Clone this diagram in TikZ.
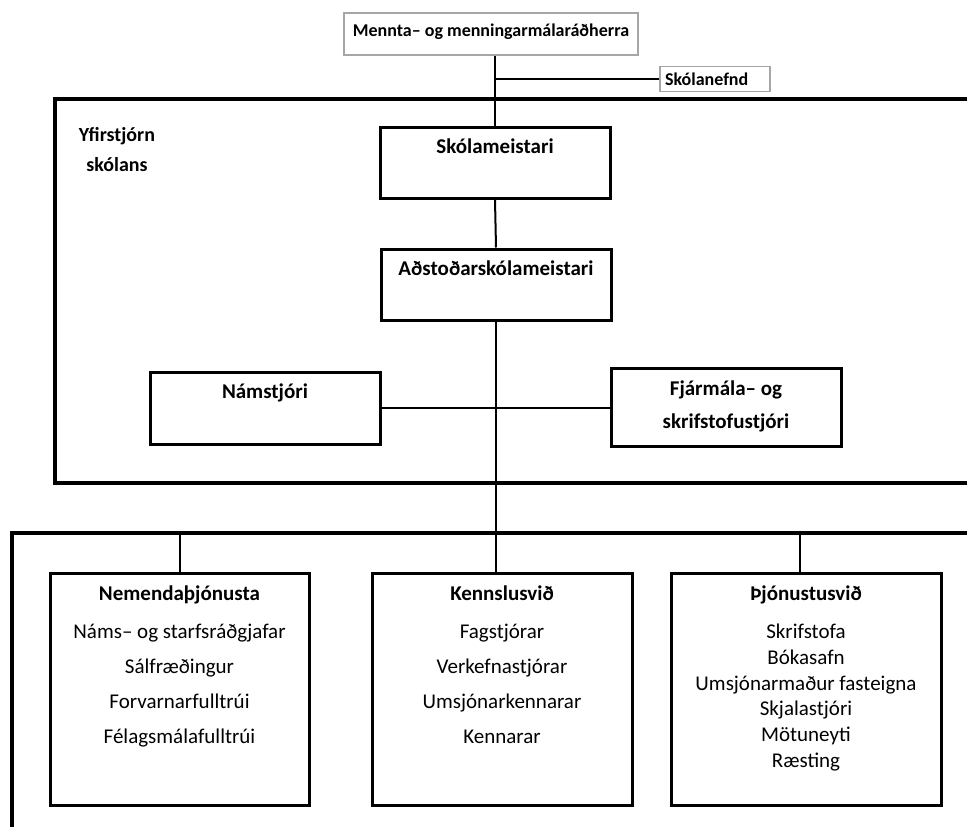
\documentclass[tikz,border=0pt]{standalone}
\usepackage{fontspec}
\setmainfont{Carlito}
\usetikzlibrary{positioning}
\tikzset{unit/.style={draw, line width=3pt, minimum width=230pt, inner sep=0pt},
    thin box/.style={draw=gray!70, line width=1.2pt, inner sep=3pt,
        font=\fontsize{18}{20}\selectfont\bfseries},
    label text/.style={inner sep=0pt, align=center, anchor=north},
    frame/.style={line width=3.5pt},
    link/.style={line width=2pt},
    }
\newcommand\topstrut{\rule{0pt}{20pt}}

\begin{document}
\begin{tikzpicture}[x=1pt,y=-1pt]
\useasboundingbox (0,0) rectangle (967,827);

% ofan yfirstjornar
\node[thin box, minimum width=294pt, minimum height=42pt, text height=15pt, text depth=11pt] (radh) at (491,34) {Mennta– og menningarmálaráðherra};
\node[thin box, minimum width=110pt, minimum height=25pt, inner xsep=5pt, text width=100pt, align=left] (nefnd) at (715,79) {Skólanefnd};

% rammar
\draw[frame] (967,99) -- (55,99) -- (55,483) -- (967,483);
\draw[frame] (967,533) -- (12,533) -- (12,827);
\coordinate (bar) at (12,533);
\node[label text, font=\fontsize{20}{30}\selectfont\bfseries] (yfir) at (117,121.5) {\topstrut Yfirstjórn\\skólans};

% yfirstjorn
\node[unit, minimum height=71pt] (skola) at (495,162.5) {};
\node[unit, minimum height=71pt] (adstod) at (496,284.5) {};
\node[unit, minimum height=72pt] (namstj) at (265,408) {};
\node[unit, minimum height=78pt] (fjarm) at (726,407) {};
\node[label text, font=\fontsize{21}{33}\selectfont\bfseries, below=7.5pt of skola.north] (skola-t) {\topstrut Skólameistari};
\node[label text, font=\fontsize{21}{33}\selectfont\bfseries, below=7.5pt of adstod.north] (adstod-t) {\topstrut Aðstoðarskólameistari};
\node[label text, font=\fontsize{21}{33}\selectfont\bfseries, below=7.5pt of namstj.north] (namstj-t) {\topstrut Námstjóri};
\node[label text, font=\fontsize{21}{33}\selectfont\bfseries, below=8.5pt of fjarm.north] (fjarm-t) {\topstrut Fjármála– og\\skrifstofustjóri};

% svid
\node[unit, minimum width=259pt, minimum height=232pt] (nem) at (179.5,689) {};
\node[unit, minimum width=260pt, minimum height=232pt] (kenn) at (502,689) {};
\node[unit, minimum width=270pt, minimum height=232pt] (thjon) at (806,689) {};
\node[label text, font=\fontsize{21}{35}\selectfont, below=8.5pt of nem.north] (nem-t) {\topstrut\textbf{Nemendaþjónusta}\\[3.5pt]
    Náms– og starfsráðgjafar\\Sálfræðingur\\Forvarnarfulltrúi\\Félagsmálafulltrúi};
\node[label text, font=\fontsize{21}{35}\selectfont, below=8.5pt of kenn.north] (kenn-t) {\topstrut\textbf{Kennslusvið}\\[3.5pt]
    Fagstjórar\\Verkefnastjórar\\Umsjónarkennarar\\Kennarar};
\node[label text, font=\fontsize{21}{25.7}\selectfont, below=8.5pt of thjon.north] (thjon-t) {\topstrut\textbf{Þjónustusvið}\\[12.8pt]
    Skrifstofa\\Bókasafn\\Umsjónarmaður fasteigna\\Skjalastjóri\\Mötuneyti\\Ræsting};

% tengingar
\draw[link] (skola.north |- radh.south) -- (skola.north);
\draw[link] (nefnd.west) -- (skola.north |- nefnd.west);
\draw[link] (skola.south) -- (adstod.north);
\draw[link] (adstod.south) -- (adstod.south |- kenn.north);
\draw[link] (namstj.east) -- (namstj.east -| fjarm.west);
\draw[link] (nem.north |- bar) -- (nem.north);
\draw[link] ([xshift=-6pt]thjon.north |- bar) -- ([xshift=-6pt]thjon.north);
\end{tikzpicture}
\end{document}
